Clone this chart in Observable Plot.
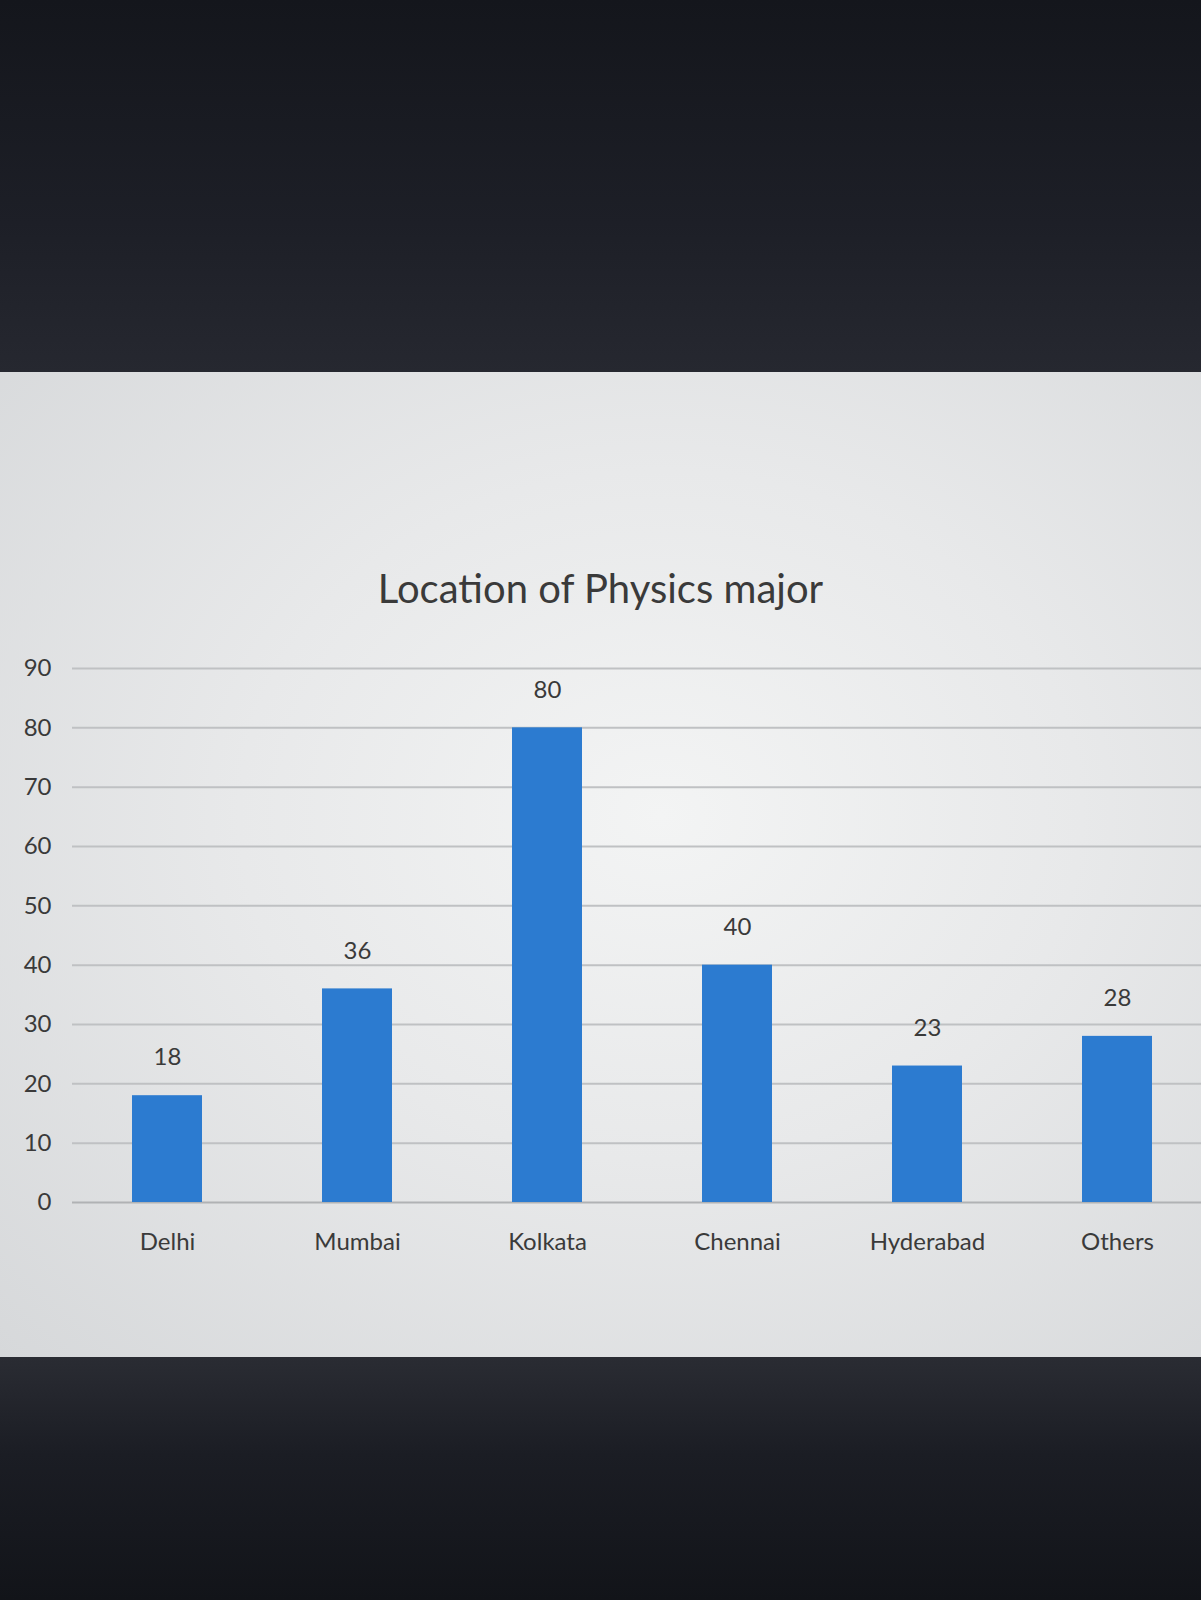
<!DOCTYPE html>
<html>
<head>
<meta charset="utf-8">
<script src="https://cdn.jsdelivr.net/npm/d3@7"></script>
<script src="https://cdn.jsdelivr.net/npm/@observablehq/plot@0.6"></script>
<style>
  html, body { margin: 0; padding: 0; width: 1201px; height: 1600px; overflow: hidden; background: #17191f; }
  #top { height: 372px; background: linear-gradient(180deg, #14161c 0%, #1d1f27 60%, #262830 100%); }
  #panel { position: relative; height: 985px; overflow: hidden; background: radial-gradient(ellipse at 55% 45%, #f3f4f4 0%, #e8e9ea 45%, #d6d8da 100%); }
  #bottom { height: 243px; background: linear-gradient(180deg, #2a2c33 0%, #1b1d24 40%, #121419 100%); }
  #title { position: absolute; left: 0; width: 1201px; top: 192px; text-align: center; font-family: Lato, "Open Sans", sans-serif; font-size: 40px; color: #3a3a3a; }
  #chart { position: absolute; left: 0; top: 268px; }
</style>
</head>
<body>
<div id="top"></div>
<div id="panel">
  <div id="title">Location of Physics major</div>
  <div id="chart"></div>
</div>
<div id="bottom"></div>
<script>
const categories = ["Delhi", "Mumbai", "Kolkata", "Chennai", "Hyderabad", "Others"];
const values = [18, 36, 80, 40, 23, 28];
const yTicks = [0, 10, 20, 30, 40, 50, 60, 70, 80, 90];

const data = categories.map((c, i) => ({category: c, value: values[i]}));

const chart = Plot.plot({
  width: 1201,
  height: 660,
  marginTop: 28,
  marginBottom: 98,
  marginLeft: 72,
  marginRight: -11,
  style: {background: "transparent", fontFamily: "Lato, 'Open Sans', sans-serif", fontSize: "24px", color: "#3a3a3a", overflow: "visible"},
  x: {domain: categories, paddingInner: 0.632, paddingOuter: 0.316, label: null},
  y: {domain: [0, 90], ticks: yTicks, label: null},
  marks: [
    Plot.gridY(yTicks.filter(d => d > 0), {stroke: "#bfc1c3", strokeOpacity: 1, strokeWidth: 2}),
    Plot.ruleY([0], {stroke: "#b0b2b4", strokeWidth: 2}),
    Plot.barY(data, {x: "category", y: "value", fill: "#2c7bd0"}),
    Plot.text(data, {x: "category", y: "value", text: d => String(d.value), dy: -38, fill: "#3a3a3a", fontSize: 24}),
    Plot.axisY({ticks: yTicks, tickSize: 0, tickPadding: 21, fontSize: 24, label: null, fill: "#3a3a3a"}),
    Plot.axisX({tickSize: 0, tickPadding: 30, fontSize: 24, label: null, fill: "#3a3a3a"})
  ]
});
document.getElementById("chart").appendChild(chart);
</script>
</body>
</html>
